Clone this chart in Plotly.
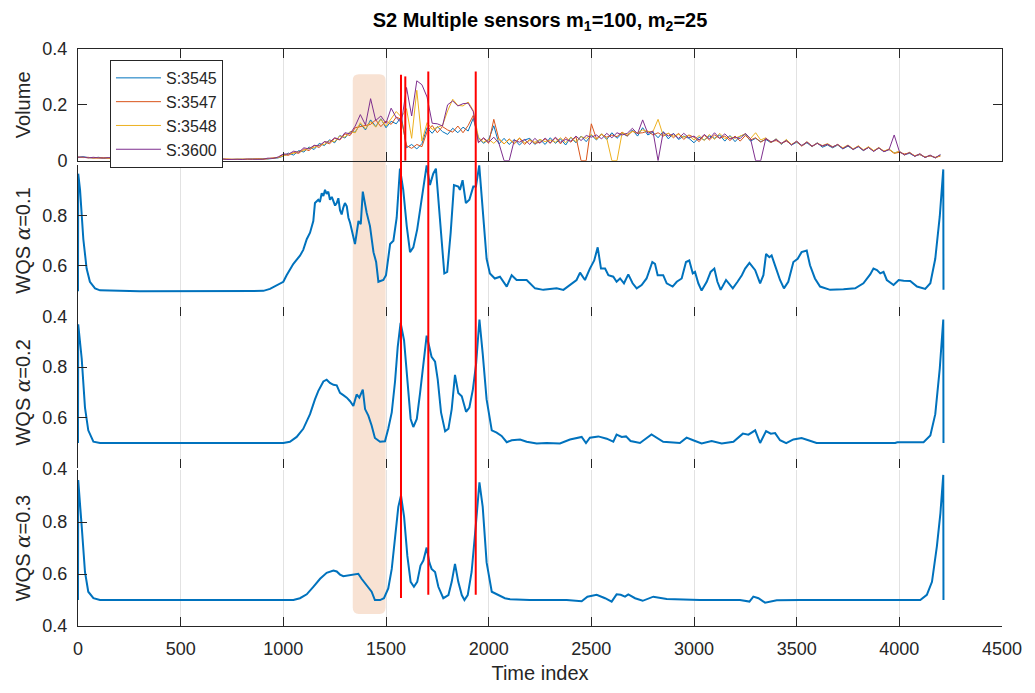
import plotly.graph_objects as go

# ---------------- data ----------------
vol_t = list(range(0, 4201, 25))

s3545 = [0.012,0.014,0.011,0.010,0.012,0.009,0.010,0.008,0.009,0.007,
         0.008,0.006,0.007,0.006,0.005,0.007,0.006,0.005,0.006,0.004,
         0.005,0.006,0.004,0.005,0.006,0.004,0.005,0.005,0.006,0.004,
         0.005,0.006,0.005,0.004,0.006,0.005,0.007,0.006,0.008,0.010,
         0.016,0.027,0.020,0.036,0.031,0.049,0.040,0.062,0.054,0.075,0.064,0.090,0.081,0.104,
         0.102,0.132,0.110,0.146,0.122,0.150,0.118,0.141,0.132,0.158,
         0.046,0.058,0.042,0.061,
         0.118,0.098,0.122,0.104,0.094,0.116,0.100,0.120,0.106,0.152,
         0.082,0.062,0.076,0.125,0.060,0.080,0.058,0.076,0.056,0.074,0.080,0.058,
         0.076,0.058,0.082,0.062,0.078,0.056,0.084,0.064,0.088,0.068,
         0.092,0.074,0.096,0.076,0.100,0.080,0.098,0.088,0.110,0.088,
         0.118,0.092,0.102,0.082,0.104,0.078,0.098,0.076,0.088,0.080,
         0.064,0.084,0.074,0.088,0.080,0.092,0.070,0.090,0.068,0.088,
         0.094,0.070,0.080,0.068,0.076,0.064,0.078,0.058,0.074,0.056,
         0.066,0.054,0.064,0.050,0.064,0.048,0.056,0.046,0.056,0.042,
         0.052,0.040,0.050,0.036,0.048,0.034,0.046,0.032,0.040,0.028,
         0.032,0.022,0.026,0.016,0.022,0.012,0.018,0.010,0.020]

s3547 = [0.013,0.011,0.012,0.009,0.010,0.011,0.008,0.009,0.007,0.008,
         0.006,0.008,0.006,0.007,0.005,0.006,0.005,0.007,0.004,0.006,
         0.004,0.005,0.006,0.004,0.005,0.005,0.006,0.004,0.005,0.006,
         0.004,0.005,0.006,0.005,0.005,0.007,0.005,0.008,0.009,0.012,
         0.022,0.019,0.030,0.026,0.042,0.036,0.054,0.047,0.068,0.060,0.080,0.074,0.096,0.090,
         0.118,0.122,0.128,0.130,0.146,0.122,0.142,0.130,0.156,0.148,
         0.054,0.044,0.058,0.050,
         0.104,0.126,0.100,0.122,0.110,0.102,0.124,0.100,0.126,0.162,
         0.066,0.080,0.062,0.148,0.076,0.060,0.078,0.060,0.080,0.058,0.076,0.062,
         0.066,0.078,0.062,0.082,0.060,0.084,0.066,0.086,0.000,0.000,
         0.132,0.078,0.094,0.084,0.092,0.086,0.102,0.088,0.106,0.098,
         0.100,0.106,0.092,0.100,0.088,0.098,0.082,0.098,0.076,0.092,
         0.084,0.068,0.092,0.074,0.092,0.080,0.088,0.072,0.088,0.070,
         0.090,0.074,0.082,0.066,0.078,0.068,0.072,0.062,0.070,0.058,
         0.068,0.052,0.066,0.051,0.062,0.052,0.058,0.048,0.058,0.044,
         0.054,0.041,0.052,0.037,0.048,0.035,0.045,0.034,0.040,0.026,
         0.030,0.024,0.028,0.018,0.022,0.013,0.017,0.012,0.016]

s3548 = [0.011,0.012,0.010,0.011,0.009,0.010,0.009,0.007,0.008,0.008,
         0.007,0.007,0.005,0.006,0.006,0.005,0.007,0.005,0.005,0.005,
         0.006,0.004,0.005,0.006,0.004,0.006,0.005,0.005,0.004,0.005,
         0.006,0.004,0.005,0.006,0.004,0.006,0.006,0.007,0.010,0.011,
         0.017,0.024,0.026,0.033,0.036,0.045,0.047,0.056,0.058,0.072,0.068,0.088,0.084,0.104,
         0.100,0.136,0.114,0.140,0.120,0.148,0.124,0.152,0.176,0.156,
         0.186,0.080,0.252,0.070,
         0.136,0.112,0.118,0.126,0.178,0.220,0.198,0.196,0.210,0.180,
         0.084,0.066,0.076,0.062,0.080,0.060,0.076,0.062,0.082,0.064,0.072,0.066,
         0.076,0.068,0.074,0.066,0.082,0.064,0.084,0.068,0.086,0.080,
         0.094,0.076,0.096,0.080,0.000,0.000,0.100,0.094,0.104,0.100,
         0.110,0.104,0.104,0.148,0.090,0.098,0.088,0.094,0.084,0.090,
         0.074,0.090,0.072,0.094,0.076,0.098,0.079,0.086,0.080,0.088,
         0.096,0.079,0.100,0.074,0.082,0.064,0.078,0.060,0.076,0.058,
         0.069,0.054,0.068,0.052,0.063,0.054,0.061,0.050,0.057,0.046,
         0.056,0.042,0.053,0.039,0.050,0.036,0.047,0.034,0.042,0.027,
         0.034,0.020,0.030,0.016,0.024,0.012,0.019,0.010,0.018]

s3600 = [0.012,0.013,0.010,0.012,0.010,0.009,0.011,0.008,0.008,0.009,
         0.007,0.006,0.008,0.005,0.007,0.006,0.006,0.004,0.007,0.005,
         0.005,0.005,0.006,0.005,0.004,0.005,0.006,0.005,0.006,0.004,
         0.005,0.005,0.004,0.006,0.005,0.006,0.005,0.009,0.008,0.013,
         0.024,0.023,0.034,0.030,0.046,0.042,0.055,0.053,0.068,0.066,0.082,0.076,0.100,0.096,
         0.124,0.165,0.128,0.222,0.144,0.160,0.134,0.188,0.154,0.136,
         0.262,0.160,0.286,0.272,
         0.228,0.134,0.132,0.124,0.200,0.214,0.196,0.204,0.206,0.176,
         0.064,0.082,0.066,0.084,0.062,0.000,0.000,0.074,0.066,0.076,0.058,0.080,
         0.062,0.081,0.064,0.084,0.066,0.076,0.070,0.088,0.072,0.090,
         0.084,0.092,0.078,0.098,0.082,0.100,0.092,0.098,0.116,0.096,
         0.146,0.098,0.106,0.000,0.102,0.088,0.096,0.080,0.098,0.082,
         0.088,0.074,0.094,0.078,0.100,0.080,0.096,0.078,0.084,0.079,
         0.098,0.079,0.000,0.000,0.080,0.066,0.076,0.062,0.072,0.056,
         0.070,0.054,0.067,0.052,0.062,0.053,0.059,0.049,0.058,0.043,
         0.055,0.040,0.051,0.037,0.047,0.033,0.046,0.032,0.040,0.092,
         0.033,0.020,0.029,0.015,0.025,0.011,0.020,0.010,0.022]

sensor_names = ["S:3545", "S:3547", "S:3548", "S:3600"]

wqs1_t = [0,1,10,26,42,58,83,107,300,600,903,935,967,1000,1016,1032,1049,1081,1097,1114,1130,1146,1154,1170,1178,1187,1195,1203,1211,1219,1227,1236,1244,1252,1260,1268,1276,1284,1292,1300,1309,1317,1325,1349,1366,1377,1387,1406,1422,1439,1452,1463,1487,1500,1520,1536,1552,1568,1584,1601,1617,1633,1652,1673,1698,1714,1730,1743,1755,1771,1784,1798,1815,1831,1852,1860,1873,1889,1906,1925,1938,1954,1970,1990,2006,2030,2055,2071,2088,2112,2136,2185,2226,2266,2331,2364,2396,2428,2445,2469,2493,2514,2531,2547,2567,2583,2607,2623,2640,2659,2680,2701,2721,2745,2769,2797,2810,2823,2850,2867,2896,2916,2940,2961,2977,2994,3005,3021,3037,3062,3081,3099,3114,3130,3156,3189,3212,3233,3249,3270,3298,3322,3338,3351,3367,3378,3400,3419,3438,3459,3484,3505,3524,3549,3565,3589,3614,3663,3728,3785,3825,3858,3874,3891,3907,3923,3939,3972,3997,4021,4053,4086,4126,4151,4175,4197,4214,4215]
wqs1_v = [0.5,0.964,0.9,0.705,0.589,0.537,0.511,0.503,0.5,0.5,0.501,0.509,0.522,0.537,0.563,0.583,0.608,0.64,0.663,0.705,0.731,0.777,0.848,0.861,0.852,0.887,0.876,0.9,0.884,0.893,0.861,0.872,0.85,0.838,0.848,0.867,0.82,0.803,0.83,0.848,0.835,0.79,0.77,0.686,0.777,0.764,0.893,0.809,0.757,0.654,0.615,0.537,0.544,0.563,0.686,0.699,0.79,0.984,0.9,0.757,0.654,0.673,0.744,0.861,0.997,0.919,0.964,0.984,0.861,0.667,0.57,0.576,0.731,0.919,0.913,0.9,0.938,0.848,0.861,0.913,0.913,0.997,0.822,0.628,0.57,0.55,0.557,0.537,0.518,0.563,0.544,0.544,0.511,0.505,0.511,0.505,0.524,0.544,0.573,0.544,0.589,0.621,0.673,0.589,0.589,0.563,0.557,0.537,0.55,0.531,0.566,0.531,0.511,0.524,0.55,0.615,0.608,0.563,0.563,0.531,0.518,0.537,0.55,0.615,0.621,0.57,0.576,0.531,0.502,0.537,0.576,0.589,0.537,0.505,0.544,0.511,0.537,0.563,0.589,0.612,0.583,0.531,0.563,0.647,0.634,0.641,0.589,0.544,0.511,0.537,0.615,0.628,0.654,0.66,0.602,0.55,0.518,0.505,0.507,0.511,0.531,0.566,0.589,0.583,0.57,0.576,0.544,0.524,0.544,0.541,0.54,0.518,0.509,0.531,0.628,0.796,0.981,0.505]

wqs2_t = [0,1,18,34,50,75,107,600,1000,1032,1065,1097,1130,1154,1170,1195,1211,1227,1244,1260,1276,1292,1309,1325,1341,1357,1370,1387,1398,1414,1430,1446,1471,1495,1511,1528,1544,1557,1571,1588,1604,1620,1633,1650,1666,1682,1698,1711,1722,1739,1752,1768,1788,1804,1820,1836,1852,1869,1890,1906,1923,1939,1955,1971,1990,2015,2039,2063,2088,2112,2153,2185,2234,2282,2347,2396,2453,2474,2493,2534,2575,2607,2623,2648,2669,2691,2737,2793,2850,2931,2964,2996,3037,3086,3135,3192,3238,3265,3298,3322,3351,3374,3395,3419,3449,3484,3524,3557,3597,3980,3990,4118,4151,4175,4197,4214,4215]
wqs2_v = [0.5,0.969,0.834,0.64,0.55,0.505,0.5,0.5,0.5,0.505,0.524,0.556,0.614,0.672,0.705,0.743,0.75,0.737,0.73,0.728,0.698,0.689,0.679,0.665,0.646,0.692,0.679,0.711,0.634,0.608,0.569,0.52,0.505,0.507,0.556,0.621,0.743,0.879,0.975,0.905,0.75,0.595,0.563,0.595,0.698,0.801,0.924,0.879,0.84,0.821,0.75,0.621,0.546,0.556,0.634,0.769,0.698,0.685,0.623,0.64,0.711,0.814,0.988,0.853,0.672,0.55,0.541,0.528,0.503,0.511,0.514,0.505,0.498,0.5,0.498,0.514,0.524,0.5,0.521,0.526,0.517,0.505,0.533,0.524,0.526,0.508,0.5,0.534,0.505,0.5,0.521,0.511,0.498,0.508,0.498,0.505,0.537,0.533,0.55,0.5,0.547,0.537,0.539,0.511,0.499,0.514,0.52,0.511,0.5,0.5,0.503,0.503,0.53,0.614,0.795,0.988,0.5]

wqs3_t = [0,1,18,34,50,75,107,1049,1081,1114,1146,1179,1211,1244,1260,1276,1292,1317,1341,1365,1381,1406,1430,1446,1471,1490,1511,1528,1544,1560,1573,1588,1604,1620,1636,1652,1668,1682,1698,1711,1722,1739,1755,1779,1804,1820,1836,1852,1869,1882,1898,1917,1937,1955,1971,1990,2015,2047,2079,2104,2200,2380,2453,2481,2526,2567,2599,2623,2643,2664,2680,2713,2750,2802,2867,3029,3224,3270,3289,3314,3346,3403,3517,4102,4134,4159,4183,4200,4214,4215]
wqs3_v = [0.5,0.962,0.784,0.608,0.532,0.507,0.5,0.5,0.507,0.522,0.551,0.582,0.605,0.614,0.61,0.598,0.592,0.595,0.597,0.601,0.582,0.557,0.532,0.5,0.5,0.507,0.545,0.62,0.746,0.859,0.903,0.821,0.67,0.57,0.551,0.57,0.633,0.652,0.702,0.645,0.62,0.608,0.551,0.507,0.519,0.57,0.639,0.57,0.519,0.5,0.519,0.608,0.784,0.953,0.859,0.645,0.532,0.519,0.507,0.503,0.5,0.5,0.495,0.513,0.52,0.507,0.494,0.522,0.52,0.513,0.522,0.507,0.497,0.513,0.504,0.5,0.5,0.494,0.513,0.507,0.49,0.499,0.5,0.5,0.52,0.57,0.708,0.834,0.982,0.5]

ALPHA = '<span style="font-family:DejaVu Serif"><i>α</i></span>'
wqs_labels = [f"WQS {ALPHA}=0.1", f"WQS {ALPHA}=0.2", f"WQS {ALPHA}=0.3"]

# change-point markers (time index) and highlighted window
red_t = [1573, 1706, 1937]
red_short_t = [1594]
window_t = [1338, 1498]

x_ticks = list(range(0, 4501, 500))

# ---------------- styling ----------------
FONT = "Liberation Sans, Arial, Helvetica, sans-serif"
AX = "#262626"
GRID = "#e2e2e2"
sensor_colors = ["#0072BD", "#D95319", "#EDB120", "#7E2F8E"]
WQS_COLOR = "#0072BD"

fig = go.Figure()

for name, vals, col in zip(sensor_names, [s3545, s3547, s3548, s3600], sensor_colors):
    fig.add_trace(go.Scatter(x=vol_t, y=vals, mode="lines", name=name,
                             line=dict(color=col, width=1), xaxis="x", yaxis="y"))

for k, (tt, vv) in enumerate([(wqs1_t, wqs1_v), (wqs2_t, wqs2_v), (wqs3_t, wqs3_v)]):
    fig.add_trace(go.Scatter(x=tt, y=vv, mode="lines", showlegend=False,
                             line=dict(color=WQS_COLOR, width=2),
                             xaxis=f"x{k+2}", yaxis=f"y{k+2}"))

# plot area in pixels: x 78..1002, y 49..638
doms = {"y": [0.8065, 1.0], "y2": [0.5365, 0.7997], "y3": [0.2733, 0.5365], "y4": [0.0, 0.270]}

def xax(anchor, showline=False, labels=False, mirror=False):
    d = dict(domain=[0, 1], anchor=anchor, range=[0, 4500], tickvals=x_ticks,
             ticks="inside", ticklen=9, tickcolor=AX, showgrid=True, gridcolor=GRID,
             gridwidth=1, zeroline=False, showline=showline, linecolor=AX, linewidth=1,
             showticklabels=labels, tickfont=dict(size=18, color=AX, family=FONT))
    if mirror:
        d["mirror"] = "ticks"
    return d

def yax(anchor, dom, rng, tv, title, mirror=False):
    d = dict(domain=dom, anchor=anchor, range=rng, tickvals=tv,
             ticktext=[("%g" % v) for v in tv],
             ticks="inside", ticklen=9, tickcolor=AX, showgrid=False, zeroline=False,
             showline=True, linecolor=AX, linewidth=1,
             tickfont=dict(size=18, color=AX, family=FONT), ticklabelstandoff=6,
             title=dict(text=title, font=dict(size=20, color=AX, family=FONT), standoff=6))
    if mirror:
        d["mirror"] = "ticks"
    return d

layout = dict(
    width=1035, height=693,
    margin=dict(l=78, r=33, t=49, b=55),
    paper_bgcolor="white", plot_bgcolor="rgba(0,0,0,0)",
    font=dict(family=FONT, color=AX),
    title=dict(text="<b>S2 Multiple sensors m<sub>1</sub>=100, m<sub>2</sub>=25</b>",
               x=0.5, xref="paper", xanchor="center", y=1 - 20 / 693, yref="container",
               yanchor="middle", font=dict(size=20, color="black", family=FONT)),
    xaxis=xax("y", showline=True, mirror=True),
    xaxis2=xax("y2"),
    xaxis3=xax("y3"),
    xaxis4=xax("y4", showline=True, labels=True),
    yaxis=yax("x", doms["y"], [0, 0.4], [0, 0.2, 0.4], "Volume", mirror=True),
    yaxis2=yax("x2", doms["y2"], [0.4, 1.0], [0.4, 0.6, 0.8], wqs_labels[0]),
    yaxis3=yax("x3", doms["y3"], [0.4, 1.0], [0.4, 0.6, 0.8], wqs_labels[1]),
    yaxis4=yax("x4", doms["y4"], [0.4, 1.0], [0.4, 0.6, 0.8], wqs_labels[2]),
    legend=dict(x=0.0346, y=0.981, xanchor="left", yanchor="top", bgcolor="white",
                bordercolor=AX, borderwidth=1, font=dict(size=16, color=AX, family=FONT),
                itemwidth=45, tracegroupgap=0),
    showlegend=True,
)
layout["xaxis4"]["title"] = dict(text="Time index", font=dict(size=20, color=AX, family=FONT), standoff=8)
layout["xaxis4"]["ticklabelstandoff"] = 6
fig.update_layout(**layout)

# highlighted window with rounded corners (x in data units, y in paper units)
x0, x1 = window_t
y0, y1 = 0.0209, 0.9564
rx, ry = 30, 0.011
path = (f"M {x0+rx},{y1} L {x1-rx},{y1} Q {x1},{y1} {x1},{y1-ry} "
        f"L {x1},{y0+ry} Q {x1},{y0} {x1-rx},{y0} L {x0+rx},{y0} "
        f"Q {x0},{y0} {x0},{y0+ry} L {x0},{y1-ry} Q {x0},{y1} {x0+rx},{y1} Z")
fig.add_shape(type="path", path=path, xref="x", yref="paper",
              fillcolor="rgb(248,226,211)", line=dict(width=0), layer="below")

red_extent = [(0.9554, 0.0487), (0.961, 0.0543), (0.961, 0.0543)]
for t, (top, bot) in zip(red_t, red_extent):
    fig.add_shape(type="line", x0=t, x1=t, y0=bot, y1=top, xref="x", yref="paper",
                  line=dict(color="#ff0000", width=2), layer="above")
for t in red_short_t:
    fig.add_shape(type="line", x0=t, x1=t, y0=0.8065, y1=0.9525, xref="x", yref="paper",
                  line=dict(color="#ff0000", width=2), layer="above")

fig.write_html("out.html")
